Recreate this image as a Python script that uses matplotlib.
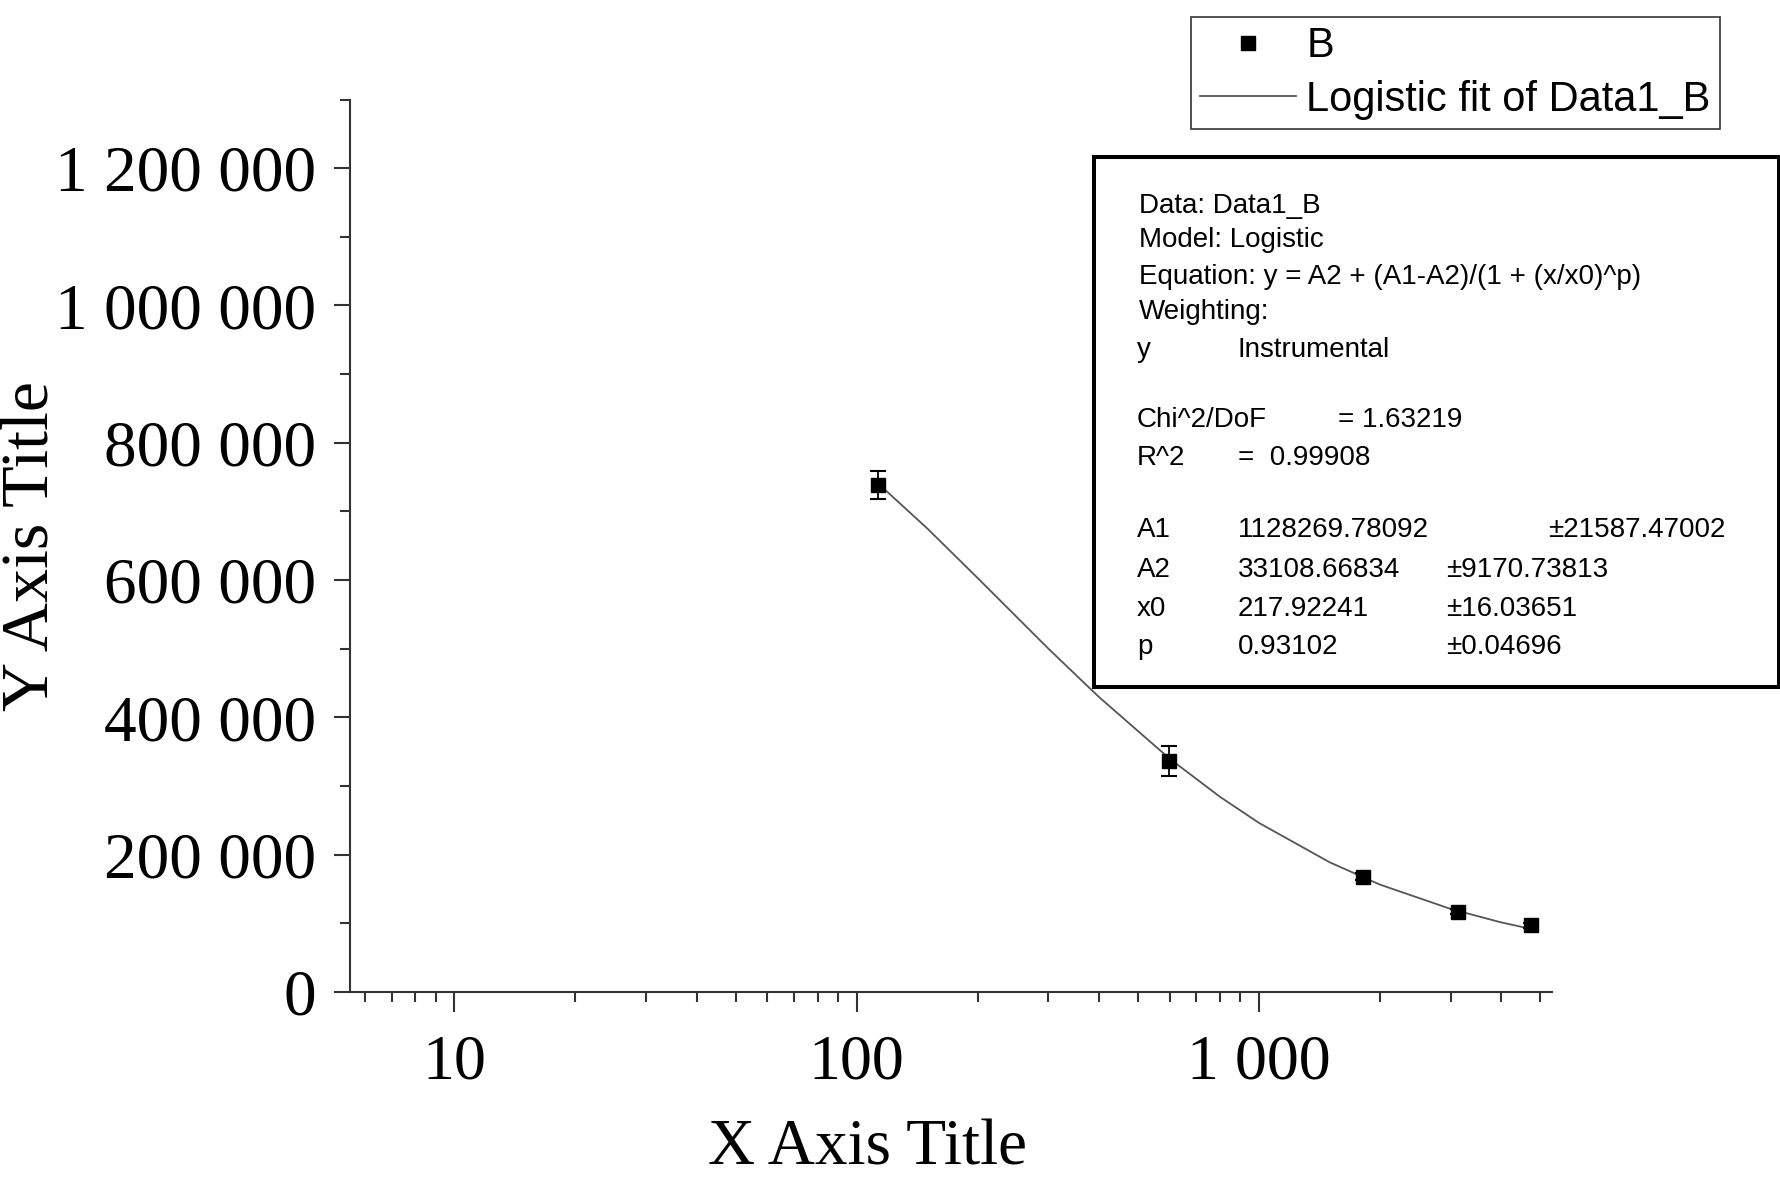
import matplotlib
matplotlib.use("Agg")
import matplotlib.pyplot as plt
from matplotlib.patches import Rectangle
from matplotlib.ticker import FuncFormatter, MultipleLocator, NullFormatter, LogLocator

# measured data (B) with instrumental errors
x_data = [113, 598, 1817, 3132, 4740]
y_data = [738500, 337000, 168000, 117000, 96900]
y_err = [20500, 21800, 5000, 4000, 3500]

# logistic fit curve
fit_x = [113, 150, 200, 300, 400, 600, 800, 1000, 1500, 2000, 3000, 4000, 4740]
fit_y = [741000, 675000, 603000, 500000, 430000, 340000, 284500, 246500,
         189000, 156500, 121000, 101500, 92000]

# fit report text
head_lines = ["Data: Data1_B", "Model: Logistic",
              "Equation: y = A2 + (A1-A2)/(1 + (x/x0)^p)", "Weighting:"]
param_names = ["A1", "A2", "x0", "p"]
param_values = ["1128269.78092", "33108.66834", "217.92241", "0.93102"]
param_errors = ["\u00b121587.47002", "\u00b19170.73813", "\u00b116.03651", "\u00b10.04696"]

W, H = 1781, 1202
fig = plt.figure(figsize=(W / 100, H / 100), dpi=100)


def px(x, y):
    return x / W, 1 - y / H


ax = fig.add_axes([350 / W, 1 - 992 / H, 1202 / W, 892.5 / H])

ax.errorbar(x_data, y_data, yerr=y_err, fmt="none", ecolor="black",
            elinewidth=1.3, capsize=6, capthick=1.5, zorder=3)
ax.plot(x_data, y_data, "s", color="black", markersize=10.5, label="B", zorder=4)
ax.plot(fit_x, fit_y, "-", color="#555555", lw=1.3, label="Logistic fit of Data1_B", zorder=2)

ax.set_xscale("log")
ax.set_xlim(5.5, 5360)
ax.set_ylim(0, 1300000)

for s in ["top", "right"]:
    ax.spines[s].set_visible(False)
for s in ["left", "bottom"]:
    ax.spines[s].set_linewidth(1.5)
    ax.spines[s].set_color("#333333")

fmt = FuncFormatter(lambda v, p: f"{v:,.0f}".replace(",", " "))
ax.yaxis.set_major_locator(MultipleLocator(200000))
ax.yaxis.set_minor_locator(MultipleLocator(100000))
ax.yaxis.set_major_formatter(fmt)
ax.xaxis.set_major_locator(LogLocator(base=10))
ax.xaxis.set_minor_locator(LogLocator(base=10, subs=range(2, 10)))
ax.xaxis.set_major_formatter(fmt)
ax.xaxis.set_minor_formatter(NullFormatter())

serif = "Liberation Serif"
ax.tick_params(axis="y", which="major", direction="out", length=11.5, width=1.5,
               pad=13, labelsize=47, color="#333333")
ax.tick_params(axis="x", which="major", direction="out", length=14.4, width=1.5,
               pad=16, labelsize=46, color="#333333")
ax.tick_params(which="minor", direction="out", length=7.2, width=1.5, color="#333333")
for lab in ax.get_xticklabels() + ax.get_yticklabels():
    lab.set_family(serif)

ax.set_xlabel("X Axis Title", fontsize=47, family=serif)
ax.set_ylabel("Y Axis Title", fontsize=49, family=serif)
ax.xaxis.set_label_coords(0.4306, -0.142)
ax.yaxis.set_label_coords(-0.24, 0.5)

leg = ax.legend(loc="upper right", bbox_to_anchor=px(1720, 17), bbox_transform=fig.transFigure,
                prop={"family": "Liberation Sans", "size": 30}, frameon=True, fancybox=False,
                borderpad=0.22, handlelength=2.3, handletextpad=0.25, labelspacing=0.32,
                borderaxespad=0, numpoints=1)
leg.get_frame().set_edgecolor("black")
leg.get_frame().set_linewidth(1.2)

# fit report box
x0, y0 = px(1094, 687)
x1, y1 = px(1779, 157)
fig.patches.append(Rectangle((x0, y0), x1 - x0, y1 - y0, transform=fig.transFigure,
                             fill=False, edgecolor="black", linewidth=2.9, zorder=5))

sans = "Liberation Sans"
fs = 20
rows_y = [205.6, 239.6, 277.1, 312.3]
for t, yy in zip(head_lines, rows_y):
    fig.text(*px(1139, yy), t, fontsize=fs, family=sans, va="center")
fig.text(*px(1137, 349.8), "y", fontsize=fs, family=sans, va="center")
fig.text(*px(1238, 349.8), "Instrumental", fontsize=fs, family=sans, va="center")
fig.text(*px(1137, 420.2), "Chi^2/DoF", fontsize=fs, family=sans, va="center")
fig.text(*px(1338, 420.2), "= 1.63219", fontsize=fs, family=sans, va="center")
fig.text(*px(1137, 457.7), "R^2", fontsize=fs, family=sans, va="center")
fig.text(*px(1238, 457.7), "=  0.99908", fontsize=fs, family=sans, va="center")

param_y = [530.4, 570.2, 608.8, 647.4]
err_x = [1548, 1446, 1446, 1446]
for name, val, err, yy, ex in zip(param_names, param_values, param_errors, param_y, err_x):
    fig.text(*px(1137, yy), name, fontsize=fs, family=sans, va="center")
    fig.text(*px(1238, yy), val, fontsize=fs, family=sans, va="center")
    fig.text(*px(ex, yy), err, fontsize=fs, family=sans, va="center")

fig.savefig("out.png", dpi=100)
